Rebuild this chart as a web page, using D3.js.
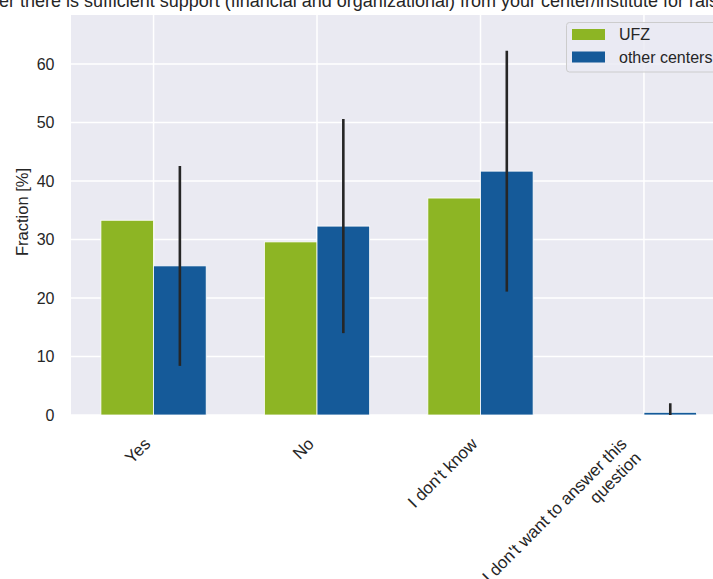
<!DOCTYPE html>
<html>
<head>
<meta charset="utf-8">
<script src="https://cdn.jsdelivr.net/npm/d3@7"></script>
<style>
  html, body { margin: 0; padding: 0; background: #ffffff; }
  svg { display: block; }
  text { font-family: "Liberation Sans", Arial, sans-serif; fill: #262626; }
</style>
</head>
<body>
<svg id="chart" width="713" height="579"></svg>
<script>
// ---- data ----
const categories = ["Yes", "No", "I don't know", "I don't want to answer this\nquestion"];
const seriesNames = ["UFZ", "other centers"];
const ufzValues = [33.3, 29.6, 37.1, 0];
const otherValues = [25.5, 32.3, 41.7, 0.46];
const otherErrors = [17.1, 18.3, 20.6, 1.55];
const yTicks = [0, 10, 20, 30, 40, 50, 60];
const titleText = "Whether there is sufficient support (financial and organizational) from your center/institute for raising third-party funds?";
const yLabel = "Fraction [%]";
const colors = ["#8db524", "#155a99"];

// ---- layout ----
const W = 713, H = 579;
const plot = { left: 71, top: 15, right: 726.5, bottom: 415 };

const svg = d3.select("#chart");

const x = d3.scalePoint().domain(categories).range([plot.left, plot.right]).padding(0.505);
const y = d3.scaleLinear().domain([0, 68.4]).range([plot.bottom, plot.top]);
const bw = x.step() * 0.322;

// clip
svg.append("defs").append("clipPath").attr("id", "plotclip")
  .append("rect").attr("x", plot.left).attr("y", plot.top)
  .attr("width", plot.right - plot.left).attr("height", plot.bottom - plot.top);

// background
svg.append("rect").attr("x", plot.left).attr("y", plot.top)
  .attr("width", plot.right - plot.left).attr("height", plot.bottom - plot.top)
  .attr("fill", "#eaeaf2");

// grid
const grid = svg.append("g");
grid.selectAll("line.h").data(yTicks).join("line")
  .attr("x1", plot.left).attr("x2", plot.right)
  .attr("y1", d => y(d)).attr("y2", d => y(d))
  .attr("stroke", "#ffffff").attr("stroke-width", 1.5);
grid.selectAll("line.v").data(categories).join("line")
  .attr("x1", d => x(d)).attr("x2", d => x(d))
  .attr("y1", plot.top).attr("y2", plot.bottom)
  .attr("stroke", "#ffffff").attr("stroke-width", 1.5);

// bars
const bars = svg.append("g").attr("clip-path", "url(#plotclip)");
bars.selectAll("rect.ufz").data(categories).join("rect")
  .attr("x", d => x(d) - bw)
  .attr("y", (d, i) => y(ufzValues[i]))
  .attr("width", bw)
  .attr("height", (d, i) => y(0) - y(ufzValues[i]))
  .attr("fill", colors[0]).attr("stroke", "#ffffff").attr("stroke-width", 0.8);
bars.selectAll("rect.other").data(categories).join("rect")
  .attr("x", d => x(d))
  .attr("y", (d, i) => y(otherValues[i]))
  .attr("width", bw)
  .attr("height", (d, i) => y(0) - y(otherValues[i]))
  .attr("fill", colors[1]).attr("stroke", "#ffffff").attr("stroke-width", 0.8);
// error bars
bars.selectAll("line.err").data(categories).join("line")
  .attr("x1", d => x(d) + bw / 2).attr("x2", d => x(d) + bw / 2)
  .attr("y1", (d, i) => y(otherValues[i] + otherErrors[i]))
  .attr("y2", (d, i) => y(otherValues[i] - otherErrors[i]))
  .attr("stroke", "#262626").attr("stroke-width", 2.6);

// y axis
const yAxis = d3.axisLeft(y).tickValues(yTicks).tickSize(0).tickPadding(16.5);
const gy = svg.append("g").attr("transform", `translate(${plot.left},0)`).call(yAxis);
gy.select(".domain").remove();
gy.selectAll("text").attr("font-size", 16).attr("fill", "#262626")
  .attr("font-family", "'Liberation Sans', Arial, sans-serif");

// y label
svg.append("text")
  .attr("transform", `translate(27.5,${(plot.top + plot.bottom) / 2 - 3}) rotate(-90)`)
  .attr("text-anchor", "middle")
  .attr("font-size", 16.5)
  .text(yLabel);

// x tick labels (rotated 45deg, right aligned)
const lineH = 20;
const xl = svg.append("g");
categories.forEach(c => {
  const lines = c.split("\n");
  const n = lines.length;
  const ex = x(c) - 2 - 0.707 * lineH * (n - 1);
  const ey = 445;
  const t = xl.append("text")
    .attr("transform", `translate(${ex},${ey}) rotate(-45)`)
    .attr("text-anchor", "end")
    .attr("font-size", 17);
  lines.forEach((ln, k) => {
    t.append("tspan").attr("x", 0).attr("dy", k === 0 ? 0 : lineH).text(ln);
  });
});

// title: position so the visible part matches
const titleG = svg.append("g");
const tmp = titleG.append("text").attr("font-size", 18).text("Wheth");
const pre = tmp.node().getComputedTextLength();
tmp.remove();
titleG.append("text")
  .attr("x", -pre - 1).attr("y", 6.5)
  .attr("font-size", 18)
  .text(titleText);

// legend
const lg = svg.append("g");
lg.append("rect").attr("x", 566.5).attr("y", 22.5).attr("width", 170).attr("height", 49.5)
  .attr("rx", 3).attr("fill", "#eaeaf2").attr("fill-opacity", 0.8)
  .attr("stroke", "#cccccc").attr("stroke-width", 1);
seriesNames.forEach((s, i) => {
  lg.append("rect").attr("x", 572).attr("y", 29 + i * 22.5).attr("width", 33).attr("height", 11)
    .attr("fill", colors[i]);
  lg.append("text").attr("x", 619).attr("y", 40 + i * 22.5).attr("font-size", 16).text(s);
});
</script>
</body>
</html>
